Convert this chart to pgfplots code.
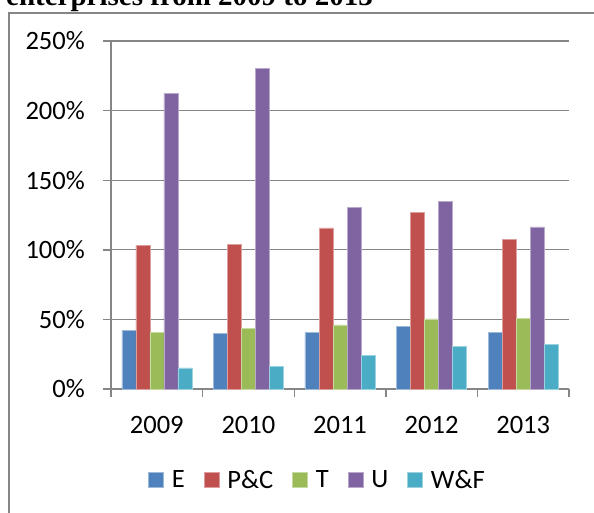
\documentclass[border=0pt]{standalone}
\usepackage{pgfplots}
\pgfplotsset{compat=1.18}
\usepackage{fontspec}
\setmainfont{Carlito}
\newfontfamily\titlefont{Liberation Serif}
\definecolor{cE}{HTML}{4F81BD}
\definecolor{cPC}{HTML}{C0504D}
\definecolor{cT}{HTML}{9BBB59}
\definecolor{cU}{HTML}{8064A2}
\definecolor{cWF}{HTML}{4BACC6}
\definecolor{gridgray}{RGB}{134,134,134}
\begin{document}
\begin{tikzpicture}
\useasboundingbox (0,0) rectangle (594pt,512pt);
\fill[white] (0,0) rectangle (594pt,512pt);
\node[anchor=base west, inner sep=0pt] at (6pt,506pt) {\titlefont\bfseries\fontsize{29}{33}\selectfont enterprises from 2009 to 2013};
\draw[gridgray, line width=1.4pt] (9pt,-30pt) -- (9pt,499pt) -- (640pt,499pt);
\begin{axis}[
  at={(111pt,123pt)}, anchor=south west,
  scale only axis, width=458pt, height=348pt,
  ybar=0pt, bar width=14pt,
  xmin=-0.5, xmax=4.5, ymin=0, ymax=250,
  xtick={0,1,2,3,4},
  xticklabels={2009,2010,2011,2012,2013},
  minor xtick={-0.5,0.5,1.5,2.5,3.5,4.5},
  ytick={0,50,100,150,200,250},
  yticklabels={0\%,50\%,100\%,150\%,200\%,250\%},
  tick align=outside,
  major tick length=8pt, minor tick length=8pt,
  xtick style={draw=none},
  minor x tick style={draw=gridgray, line width=1.4pt},
  ytick style={draw=gridgray, line width=1.4pt},
  ymajorgrids, grid style={draw=gridgray, line width=1.3pt},
  axis lines*=left,
  axis line style={-, draw=gridgray, line width=1.4pt},
  tick label style={font=\fontsize{26.5}{30}\selectfont, inner sep=0pt},
  yticklabel style={anchor=east, xshift=-18pt},
  xticklabel style={anchor=north, yshift=-19pt},
  legend columns=5,
  legend style={at={(0.0808,-0.2615)}, anchor=west, draw=none, fill=none,
    inner sep=0pt, font=\fontsize{26.5}{30}\selectfont,
    nodes={inner sep=0pt},
    /tikz/every odd column/.append style={column sep=8pt},
    /tikz/every even column/.append style={column sep=19pt}},
  legend image code/.code={\fill[#1] (0pt,-7.5pt) rectangle (15pt,7.5pt);},
  every axis plot/.append style={line width=0.6pt},
]
\addplot[fill=cE, draw=cE!55!white] coordinates {(0,41.9) (1,40.2) (2,40.4) (3,44.8) (4,40.7)};
\addplot[fill=cPC, draw=cPC!55!white] coordinates {(0,103.2) (1,104.0) (2,115.7) (3,126.9) (4,107.5)};
\addplot[fill=cT, draw=cT!55!white] coordinates {(0,40.4) (1,43.3) (2,46.0) (3,50.3) (4,51.0)};
\addplot[fill=cU, draw=cU!55!white] coordinates {(0,212.4) (1,230.6) (2,130.7) (3,135.0) (4,116.4)};
\addplot[fill=cWF, draw=cWF!55!white] coordinates {(0,15.1) (1,16.3) (2,23.9) (3,30.7) (4,32.3)};
\legend{E,P\&C,T,U,W\&F}
\end{axis}
\end{tikzpicture}
\end{document}
